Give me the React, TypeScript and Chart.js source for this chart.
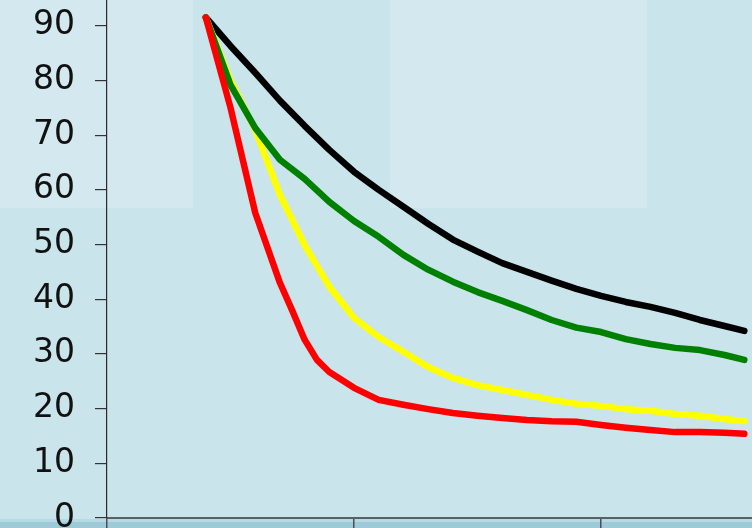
import React, { useEffect, useRef } from "react";
import { Chart, registerables } from "chart.js";

Chart.register(...registerables);

// x positions (axis units, ticks every 10) shared by black / green / yellow
const months = [4, 5, 6, 7, 8, 9, 10, 11, 12, 13, 14, 15, 16, 17, 18, 19, 20, 21, 22, 23, 24, 25, 25.8];
const blackValues = [91.5, 86.3, 81.4, 76.3, 71.7, 67.3, 63.3, 60.0, 56.9, 53.8, 50.9, 48.7, 46.6, 45.0, 43.4, 41.9, 40.6, 39.5, 38.6, 37.5, 36.2, 35.1, 34.2];
const greenValues = [91.5, 79.2, 71.3, 65.5, 62.0, 57.8, 54.3, 51.4, 48.1, 45.4, 43.2, 41.3, 39.7, 38.0, 36.2, 34.8, 34.0, 32.7, 31.8, 31.1, 30.7, 29.8, 28.9];
const yellowValues = [91.5, 80.0, 71.0, 59.1, 49.9, 42.3, 36.6, 33.1, 30.4, 27.6, 25.6, 24.3, 23.4, 22.5, 21.6, 20.9, 20.5, 19.9, 19.6, 19.0, 18.7, 18.1, 17.7];
// red has a few extra points in its steep part
const redMonths = [4, 5, 6, 7, 7.5, 8, 8.5, 9, 10, 11, 12, 13, 14, 15, 16, 17, 18, 19, 20, 21, 22, 23, 24, 25, 25.8];
const redValues = [91.5, 75.0, 55.8, 43.0, 37.9, 32.6, 28.9, 26.7, 23.8, 21.6, 20.7, 19.9, 19.2, 18.7, 18.3, 17.9, 17.7, 17.6, 17.0, 16.5, 16.1, 15.7, 15.7, 15.6, 15.4];

const yMin = 0;
const yMax = 94.7;
const yStep = 10;
const xMin = 0;
const xMax = 26.11;
const xStep = 10;

function pts(xs: number[], ys: number[]) {
  return xs.map((x, i) => ({ x, y: ys[i] }));
}

export default function App() {
  const ref = useRef<HTMLCanvasElement | null>(null);

  useEffect(() => {
    if (!ref.current) return;
    const line = (color: string, data: { x: number; y: number }[]) => ({
      data,
      borderColor: color,
      backgroundColor: color,
      borderWidth: 6.5,
      pointRadius: 0,
      tension: 0,
      fill: false,
      borderCapStyle: "round" as const,
      borderJoinStyle: "round" as const,
    });
    const chart = new Chart(ref.current, {
      type: "line",
      data: {
        datasets: [
          line("#ff0000", pts(redMonths, redValues)),
          line("#008000", pts(months, greenValues)),
          line("#ffff00", pts(months, yellowValues)),
          line("#000000", pts(months, blackValues)),
        ],
      },
      options: {
        animation: false,
        responsive: false,
        maintainAspectRatio: false,
        devicePixelRatio: 1,
        layout: { padding: { top: 40, bottom: 32, left: 0, right: 0 } },
        plugins: { legend: { display: false }, tooltip: { enabled: false }, title: { display: false } },
        scales: {
          x: {
            type: "linear",
            min: xMin,
            max: xMax,
            ticks: { stepSize: xStep, display: false, includeBounds: false },
            grid: { drawOnChartArea: false, drawTicks: true, tickLength: 10, color: "#4a4f52", lineWidth: 1.5 },
            border: { display: true, color: "#5a5f62", width: 2 },
          },
          y: {
            type: "linear",
            min: yMin,
            max: yMax,
            afterFit: (scale: any) => {
              scale.width = 107;
            },
            ticks: {
              stepSize: yStep,
              includeBounds: false,
              padding: 20,
              color: "#111111",
              font: { family: "DejaVu Sans", size: 33 },
            },
            grid: { drawOnChartArea: false, drawTicks: true, tickLength: 12, color: "#333333", lineWidth: 1.2 },
            border: { display: true, color: "#2a2a2a", width: 1.2 },
          },
        },
      },
    });
    return () => chart.destroy();
  }, []);

  return (
    <div
      style={{
        position: "fixed",
        left: 0,
        top: 0,
        width: 752,
        height: 528,
        overflow: "hidden",
        background: "#cae4eb",
      }}
    >
      <div style={{ position: "absolute", left: 0, top: 0, width: 193, height: 208, background: "#d4e8ef" }} />
      <div style={{ position: "absolute", left: 390, top: 0, width: 257, height: 208, background: "#d4e8ef" }} />
      <div
        style={{
          position: "absolute",
          left: 0,
          top: 519,
          width: 752,
          height: 9,
          background: "linear-gradient(#b4dbe5 0px, #b4dbe5 3px, #9ecad8 3px, #9ecad8 9px)",
        }}
      />
      <canvas
        ref={ref}
        width={752}
        height={600}
        style={{ position: "absolute", left: 0, top: -40, width: 752, height: 600 }}
      />
    </div>
  );
}
